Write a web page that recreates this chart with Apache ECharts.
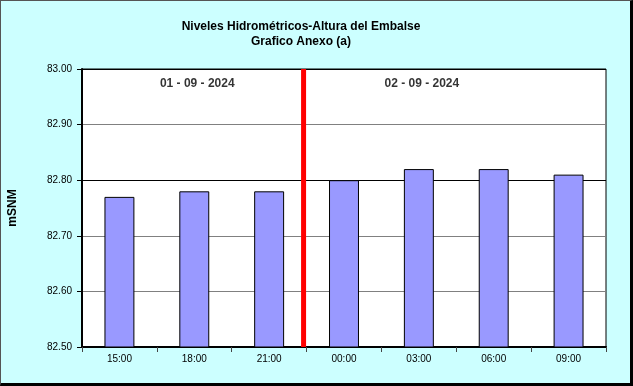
<!DOCTYPE html>
<html>
<head>
<meta charset="utf-8">
<script src="https://cdn.jsdelivr.net/npm/echarts@6/dist/echarts.min.js"></script>
<style>
html,body{margin:0;padding:0;background:#CCFFFF;}
#wrap{position:relative;width:633px;height:386px;}
#c{width:633px;height:386px;}
#frame{position:absolute;left:0;top:0;width:633px;height:386px;box-sizing:border-box;border-left:1px solid #555;border-top:1px solid #555;border-right:3px solid #000;border-bottom:3px solid #000;pointer-events:none;}
</style>
</head>
<body>
<div id="wrap"><div id="c"></div><div id="frame"></div></div>
<script>
const categories = ['15:00','18:00','21:00','00:00','03:00','06:00','09:00'];
const levels = [82.77, 82.78, 82.78, 82.80, 82.82, 82.82, 82.81];
const yTicks = ['82.50','82.60','82.70','82.80','82.90','83.00'];
const dayLabels = ['01 - 09 - 2024', '02 - 09 - 2024'];
const dayLabelPos = [1.54, 4.54];
const dayLabelLevel = 82.974;
const dayChangePos = 2.96;

const chart = echarts.init(document.getElementById('c'), null, {renderer:'canvas'});
const font = 'Liberation Sans, Arial, sans-serif';
chart.setOption({
  backgroundColor: '#CCFFFF',
  animation: false,
  title: {
    text: 'Niveles Hidrométricos-Altura del Embalse\nGrafico Anexo (a)',
    left: 296, top: 14, textAlign: 'center',
    textStyle: {fontFamily: font, fontSize: 12, fontWeight: 'bold', color: '#000', lineHeight: 15}
  },
  grid: {left: 82, right: 27, top: 69, bottom: 39, outerBoundsMode: 'none', containLabel: false,
    show: true, backgroundColor: '#fff', borderColor: '#000', borderWidth: 1},
  xAxis: [{
    type: 'category', data: categories, position: 'bottom',
    axisLine: {lineStyle: {color: '#000', width: 2}},
    axisTick: {show: true, length: 5, lineStyle: {color: '#444'}},
    axisLabel: {fontFamily: font, fontSize: 10, color: '#000', margin: 7},
    splitLine: {show: false}
  }, {
    type: 'value', min: 0, max: 7, show: false
  }],
  yAxis: {
    type: 'value', min: 82.5, max: 83.0, interval: 0.1,
    name: 'mSNM', nameLocation: 'middle', nameGap: 63,
    nameTextStyle: {fontFamily: font, fontSize: 12, fontWeight: 'bold', color: '#000'},
    axisLine: {show: true, lineStyle: {color: '#000', width: 2}},
    axisTick: {show: true, length: 5, lineStyle: {color: '#000'}},
    axisLabel: {fontFamily: font, fontSize: 10, color: '#000', margin: 10,
      formatter: (v) => yTicks[Math.round((v - 82.5) / 0.1)]},
    splitLine: {show: true, lineStyle: {color: ['#808080','#808080','#808080','#000','#808080','#000'], width: 1}}
  },
  series: [{
    type: 'bar', data: levels, xAxisIndex: 0, barWidth: '40%',
    itemStyle: {color: '#9999FF', borderColor: '#000', borderWidth: 1}
  }, {
    type: 'line', xAxisIndex: 1, symbol: 'none',
    data: [[dayChangePos, 82.5], [dayChangePos, 83.0]],
    lineStyle: {color: '#FF0000', width: 5}
  }, {
    type: 'scatter', xAxisIndex: 1, symbolSize: 0,
    data: dayLabelPos.map((p, i) => ({value: [p, dayLabelLevel], name: dayLabels[i]})),
    label: {show: true, position: 'inside', formatter: (p) => p.name,
      fontFamily: font, fontSize: 12, fontWeight: 'bold', color: '#000'}
  }]
});
</script>
</body>
</html>
